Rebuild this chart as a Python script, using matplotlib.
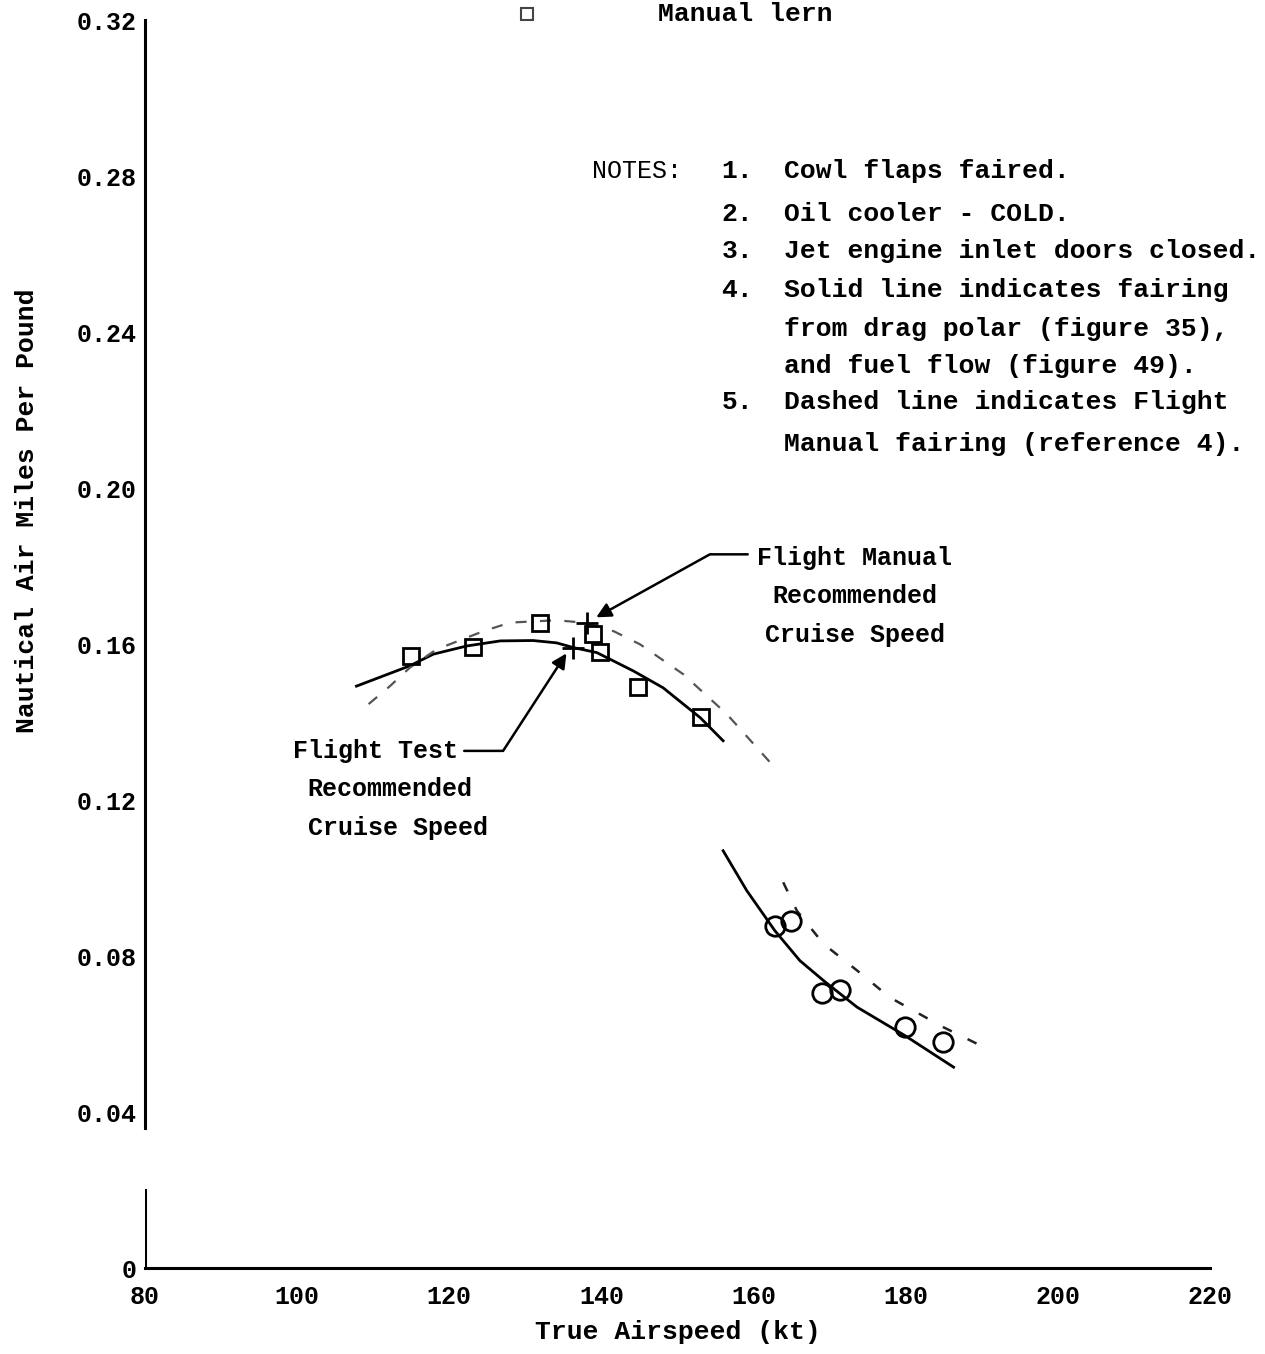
import matplotlib.pyplot as plt

# test points
sq_kt = [115.0, 123.1, 131.9, 138.9, 139.8, 144.8, 153.1]
sq_nampp = [0.157, 0.1592, 0.1654, 0.1626, 0.158, 0.149, 0.1413]
circ_kt = [162.8, 164.9, 169.0, 171.4, 179.9, 184.9]
circ_nampp = [0.0878, 0.0891, 0.0704, 0.0714, 0.0617, 0.0579]

# fairings (solid = drag polar / fuel flow, dashed = flight manual)
solid_hi_kt = [107.8, 111.3, 114.8, 117.9, 122.3, 126.7, 131.0, 134.1, 136.3, 139.4, 144.2, 148.1, 153.0, 156.0]
solid_hi = [0.1492, 0.1518, 0.1544, 0.1574, 0.1595, 0.1608, 0.1609, 0.1603, 0.1591, 0.1578, 0.1531, 0.1488, 0.1411, 0.1352]
dash_hi_kt = [109.4, 112.2, 114.8, 118.3, 124.5, 128.0, 134.1, 137.6, 141.6, 145.1, 150.8, 156.5, 162.2]
dash_hi = [0.1446, 0.1492, 0.1539, 0.1586, 0.1633, 0.1655, 0.1661, 0.1655, 0.1633, 0.1599, 0.1522, 0.1420, 0.1296]
solid_lo_kt = [156.0, 159.1, 162.8, 166.1, 169.2, 173.6, 179.9, 186.3]
solid_lo = [0.1070, 0.0968, 0.0865, 0.0788, 0.0737, 0.0669, 0.0596, 0.0515]
dash_lo_kt = [163.9, 165.7, 169.2, 173.6, 177.9, 184.9, 189.8]
dash_lo = [0.0989, 0.0916, 0.0831, 0.0763, 0.0694, 0.0618, 0.0571]

# recommended cruise speeds
fm_rec = (138.1, 0.1655)
ft_rec = (136.3, 0.1591)

xticks = [80, 100, 120, 140, 160, 180, 200, 220]
yticks = [0, 0.04, 0.08, 0.12, 0.16, 0.20, 0.24, 0.28, 0.32]
ytick_labels = ['0', '0.04', '0.08', '0.12', '0.16', '0.20', '0.24', '0.28', '0.32']

notes = [('1.', 'Cowl flaps faired.'),
         ('2.', 'Oil cooler - COLD.'),
         ('3.', 'Jet engine inlet doors closed.'),
         ('4.', 'Solid line indicates fairing'),
         ('', 'from drag polar (figure 35),'),
         ('', 'and fuel flow (figure 49).'),
         ('5.', 'Dashed line indicates Flight'),
         ('', 'Manual fairing (reference 4).')]

plt.rcParams['font.family'] = 'Liberation Mono'
plt.rcParams['font.weight'] = 'bold'
plt.rcParams['axes.labelweight'] = 'bold'
fs = 18

fig = plt.figure(figsize=(12.65, 13.54), dpi=100)
ax = fig.add_axes([0.1146, 0.0635, 0.8419, 0.9217])

ax.plot(solid_hi_kt, solid_hi, color='black', lw=2)
ax.plot(dash_hi_kt, dash_hi, color='#555555', lw=1.6, dashes=(5, 6))
ax.plot(solid_lo_kt, solid_lo, color='black', lw=2)
ax.plot(dash_lo_kt, dash_lo, color='#222222', lw=1.8, dashes=(4, 7))

ax.plot(sq_kt, sq_nampp, ls='none', marker='s', ms=11.5, mfc='none', mec='black', mew=2)
ax.plot(circ_kt, circ_nampp, ls='none', marker='o', ms=14, mfc='none', mec='black', mew=2)
ax.plot(*fm_rec, marker='+', ms=16, mew=2, color='black')
ax.plot(*ft_rec, marker='+', ms=16, mew=2, color='black')

# leaders for the recommended speeds
ax.annotate('', xy=(139.0, 0.1665), xytext=(159.6, 0.1830),
            arrowprops=dict(arrowstyle='-|>', color='black', lw=1.8, mutation_scale=22,
                            connectionstyle='angle,angleA=0,angleB=29,rad=0'))
ax.text(173.3, 0.1722, 'Flight Manual\nRecommended\nCruise Speed', ha='center', va='center',
        fontsize=fs, linespacing=1.75)
ax.annotate('', xy=(135.6, 0.1582), xytext=(121.6, 0.1326),
            arrowprops=dict(arrowstyle='-|>', color='black', lw=1.8, mutation_scale=22,
                            connectionstyle='angle,angleA=0,angleB=57,rad=0'))
ax.text(121.2, 0.1326, 'Flight Test', ha='right', va='center', fontsize=fs)
ax.text(112.2, 0.1227, 'Recommended', ha='center', va='center', fontsize=fs)
ax.text(113.3, 0.1127, 'Cruise Speed', ha='center', va='center', fontsize=fs)

# notes block
ax.text(138.8, 0.2813, 'NOTES:', ha='left', va='center', fontsize=fs, fontweight='normal')
ny = [0.2813, 0.2703, 0.2608, 0.2508, 0.2408, 0.2313, 0.2221, 0.2113]
for (num, txt), yy in zip(notes, ny):
    if num:
        ax.text(155.8, yy, num, ha='left', va='center', fontsize=fs + 1)
    ax.text(164.0, yy, txt, ha='left', va='center', fontsize=fs + 1)

# remains of the legend cut at the top
ax.plot(130.2, 0.3215, marker='s', ms=9, mfc='none', mec='#444444', mew=1.5, clip_on=False)
ax.text(147.4, 0.3215, 'Manual lern', ha='left', va='center', fontsize=fs + 1, clip_on=False)

ax.set_xlim(80, 220)
ax.set_ylim(0, 0.32)
ax.set_xticks(xticks)
ax.set_yticks(yticks)
ax.set_yticklabels(ytick_labels)
ax.tick_params(length=0, labelsize=fs, pad=6)
ax.tick_params(axis='x', pad=12)
for s in ['top', 'right']:
    ax.spines[s].set_visible(False)
ax.spines['left'].set_bounds(0.036, 0.32)
ax.spines['left'].set_linewidth(2.2)
ax.spines['bottom'].set_linewidth(2.2)
ax.axvline(80, ymin=0, ymax=0.02 / 0.32, color='black', lw=2.2)

ax.set_xlabel('True Airspeed (kt)', fontsize=fs + 1, labelpad=8)
ax.set_ylabel('Nautical Air Miles Per Pound', fontsize=fs + 1)
ax.yaxis.set_label_coords(-0.0995, 0.607)

fig.savefig('out.png', dpi=100)
